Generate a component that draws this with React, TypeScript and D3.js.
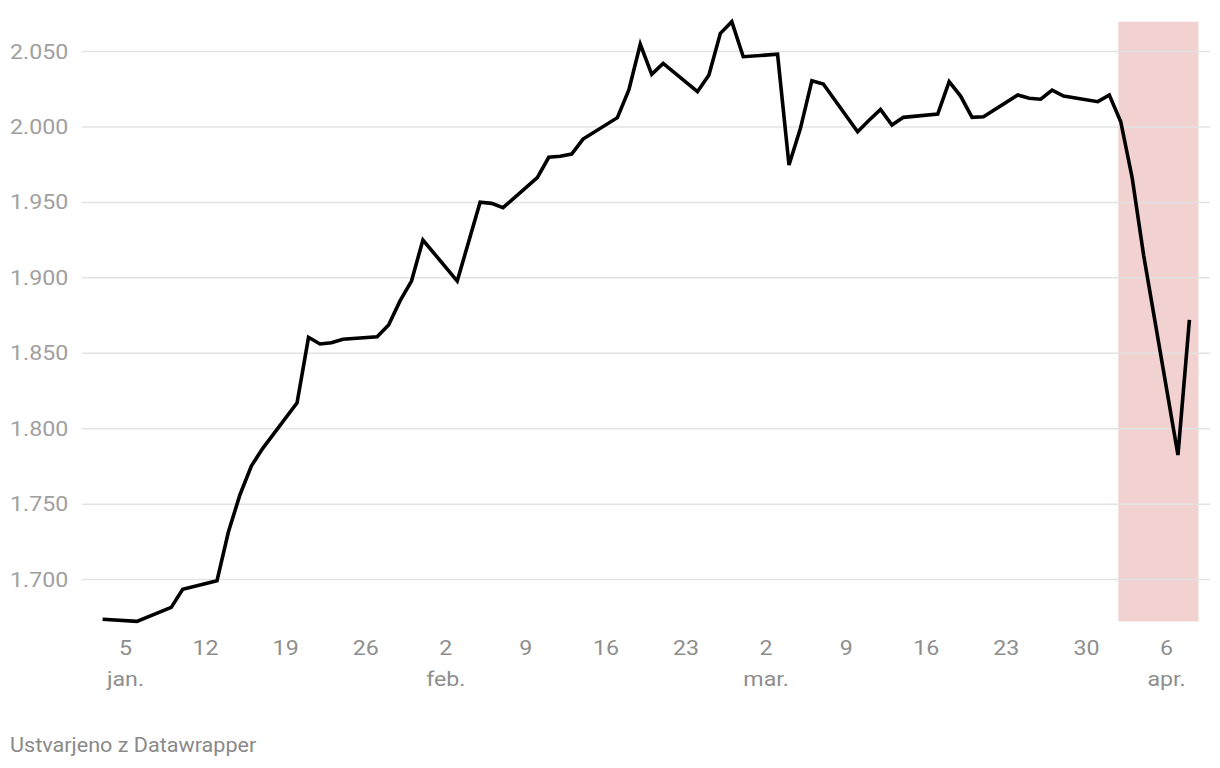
import React from "react";
import * as d3 from "d3";

const dates = [
  "2025-01-03","2025-01-06","2025-01-09","2025-01-10","2025-01-13","2025-01-14","2025-01-15","2025-01-16","2025-01-17",
  "2025-01-20","2025-01-21","2025-01-22","2025-01-23","2025-01-24","2025-01-27","2025-01-28","2025-01-29","2025-01-30","2025-01-31",
  "2025-02-03","2025-02-05","2025-02-06","2025-02-07","2025-02-10","2025-02-11","2025-02-12","2025-02-13","2025-02-14",
  "2025-02-17","2025-02-18","2025-02-19","2025-02-20","2025-02-21","2025-02-24","2025-02-25","2025-02-26","2025-02-27","2025-02-28",
  "2025-03-03","2025-03-04","2025-03-05","2025-03-06","2025-03-07","2025-03-10","2025-03-11","2025-03-12","2025-03-13","2025-03-14",
  "2025-03-17","2025-03-18","2025-03-19","2025-03-20","2025-03-21","2025-03-24","2025-03-25","2025-03-26","2025-03-27","2025-03-28",
  "2025-03-31","2025-04-01","2025-04-02","2025-04-03","2025-04-04","2025-04-07","2025-04-08",
];
const values = [
  1673.7,1672.3,1681.6,1693.6,1699.3,1731.7,1756.1,1775.3,1787.0,
  1817.2,1860.6,1856.2,1857.0,1859.3,1861.0,1868.8,1884.7,1897.9,1925.1,
  1897.9,1950.1,1949.4,1946.5,1966.4,1979.9,1980.6,1982.1,1992.0,
  2006.2,2024.5,2054.8,2034.9,2042.2,2023.4,2034.5,2062.1,2069.8,2046.6,
  2048.2,1974.8,1999.1,2030.7,2028.5,1996.9,2004.5,2011.7,2001.3,2006.4,
  2008.6,2030.0,2020.5,2006.4,2006.8,2021.2,2019.0,2018.4,2024.5,2020.5,
  2016.8,2021.2,2003.5,1966.2,1915.0,1782.6,1872.1,
];
const yTicks = [1700, 1750, 1800, 1850, 1900, 1950, 2000, 2050];
const xTickDates = ["2025-01-05","2025-01-12","2025-01-19","2025-01-26","2025-02-02","2025-02-09","2025-02-16","2025-02-23","2025-03-02","2025-03-09","2025-03-16","2025-03-23","2025-03-30","2025-04-06"];
const monthLabels: Record<string, string> = { "2025-01-05": "jan.", "2025-02-02": "feb.", "2025-03-02": "mar.", "2025-04-06": "apr." };
const bandRange = ["2025-04-01T19:00", "2025-04-08T19:00"];
const footer = "Ustvarjeno z Datawrapper";

const parse = d3.timeParse("%Y-%m-%d");
const parseT = d3.timeParse("%Y-%m-%dT%H:%M");
const locale = d3.formatLocale({ decimal: ",", thousands: ".", grouping: [3], currency: ["", " €"] });
const fmt = locale.format(",.0f");

export default function App() {
  const W = 1220, H = 768;
  const data = dates.map((d, i) => ({ date: parse(d)!, value: values[i] }));
  const x = d3.scaleTime()
    .domain(d3.extent(data, (d) => d.date) as [Date, Date])
    .range([102.6, 1189.4]);
  const y = d3.scaleLinear()
    .domain(d3.extent(data, (d) => d.value) as [number, number])
    .range([621.4, 21.7]);
  const line = d3.line<{ date: Date; value: number }>()
    .x((d) => x(d.date))
    .y((d) => y(d.value));
  const b0 = x(parseT(bandRange[0])!);
  const b1 = x(parseT(bandRange[1])!);
  const [yMin, yMax] = y.domain();
  const font = "Roboto, sans-serif";
  const sx = 1.16;
  return (
    <svg width={W} height={H} style={{ position: "absolute", left: 0, top: 0, background: "#fff" }}>
      <rect x={b0} y={y(yMax)} width={b1 - b0} height={y(yMin) - y(yMax)} fill="#f2d1d1" />
      {yTicks.map((t) => (
        <g key={t}>
          <line x1={82} x2={1210} y1={y(t)} y2={y(t)} stroke="#e3e3e3" strokeWidth={1.5} />
          <text transform={`translate(10,${y(t)}) scale(${sx},1)`} dy="0.35em" fontFamily={font} fontSize={20} fill="#a0a0a0">{fmt(t)}</text>
        </g>
      ))}
      {xTickDates.map((s) => {
        const d = parse(s)!;
        return (
          <g key={s} fontFamily={font} fontSize={20} fill="#8e8e8e" textAnchor="middle">
            <text transform={`translate(${x(d)},655) scale(${sx},1)`}>{d.getDate()}</text>
            {monthLabels[s] && <text transform={`translate(${x(d)},686) scale(${sx},1)`}>{monthLabels[s]}</text>}
          </g>
        );
      })}
      <path d={line(data) || ""} fill="none" stroke="#000" strokeWidth={3.6} strokeLinejoin="miter" strokeLinecap="butt" />
      <text transform="translate(10,752) scale(1.08,1)" fontFamily={font} fontSize={20} fill="#8a8a8a">{footer}</text>
    </svg>
  );
}
